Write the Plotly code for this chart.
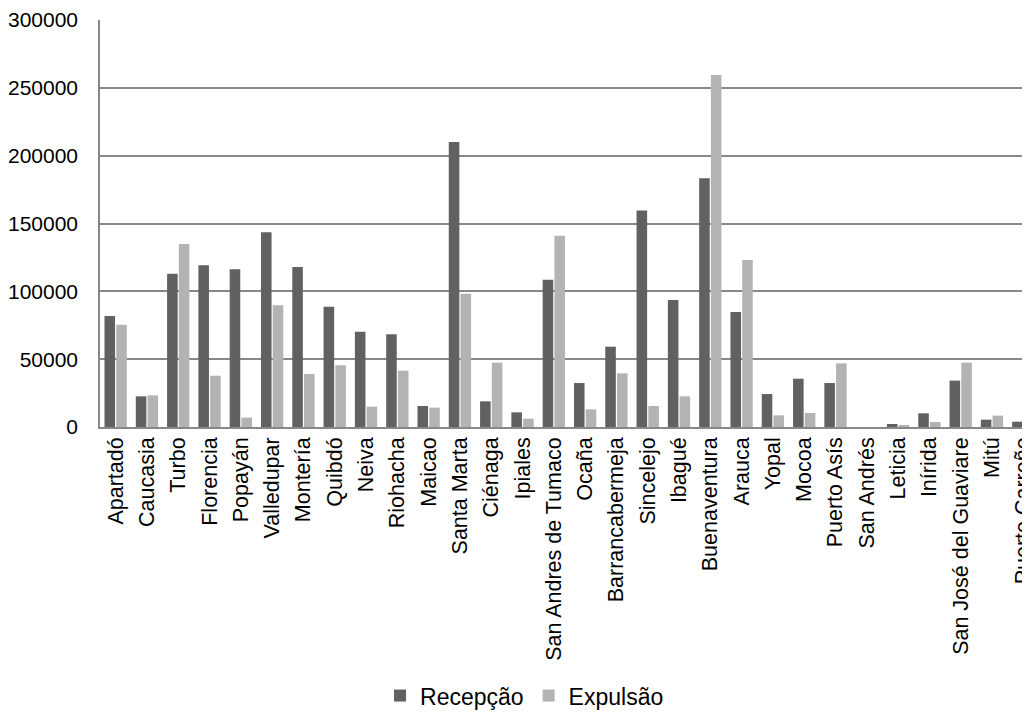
import plotly.graph_objects as go

categories = ["Apartadó", "Caucasia", "Turbo", "Florencia", "Popayán", "Valledupar",
              "Montería", "Quibdó", "Neiva", "Riohacha", "Maicao", "Santa Marta",
              "Ciénaga", "Ipiales", "San Andres de Tumaco", "Ocaña", "Barrancabermeja",
              "Sincelejo", "Ibagué", "Buenaventura", "Arauca", "Yopal", "Mocoa",
              "Puerto Asís", "San Andrés", "Leticia", "Inírida", "San José del Guaviare",
              "Mitú", "Puerto Carreño"]

recepcao = [81800, 22600, 113000, 119200, 116200, 143500,
            117900, 88700, 70300, 68300, 15500, 210100,
            18900, 10800, 108600, 32400, 59200,
            159500, 93600, 183300, 84800, 24300, 35600,
            32400, 0, 2200, 10100, 34200,
            5400, 3900]

expulsao = [75400, 23300, 134900, 37800, 6900, 89700,
            39100, 45500, 15000, 41500, 14300, 98300,
            47400, 6100, 141000, 13000, 39600,
            15500, 22600, 259500, 123100, 8600, 10300,
            46900, 0, 1000, 3700, 47400,
            8400, 2500]

FONT = "Liberation Sans, Arial, sans-serif"

fig = go.Figure()
fig.add_trace(go.Bar(x=categories, y=recepcao, name="Recepção",
                     marker=dict(color="#616161", line=dict(width=0))))
fig.add_trace(go.Bar(x=categories, y=expulsao, name="Expulsão",
                     marker=dict(color="#b3b3b3", line=dict(width=0))))

fig.update_layout(
    width=1030, height=720,
    margin=dict(l=92, r=0, t=12, b=301, autoexpand=False),
    paper_bgcolor="white", plot_bgcolor="white",
    barmode="group", bargap=0.25, bargroupgap=0.1,
    font=dict(family=FONT, color="black", size=21),
    showlegend=True,
    legend=dict(orientation="h", x=0.4526, xanchor="center", y=-0.66, yanchor="middle",
                font=dict(size=23, family=FONT, color="black"),
                itemwidth=30, traceorder="normal"),
)
fig.update_xaxes(
    type="category", range=[-0.5, 29.47], automargin=False,
    showline=True, linecolor="#888888", linewidth=1.5,
    showgrid=False, ticks="", tickangle=-90,
    tickfont=dict(size=21.5, family=FONT, color="black"),
    ticklabelstandoff=0,
)
fig.update_yaxes(
    range=[0, 300000], tickmode="linear", tick0=0, dtick=50000, tickformat="d",
    automargin=False,
    showgrid=True, gridcolor="#888888", gridwidth=1.5,
    showline=True, linecolor="#888888", linewidth=1.5,
    zeroline=False, ticks="",
    tickfont=dict(size=21, family=FONT, color="black"),
    ticklabelstandoff=16,
)

fig.write_html("out.html")
